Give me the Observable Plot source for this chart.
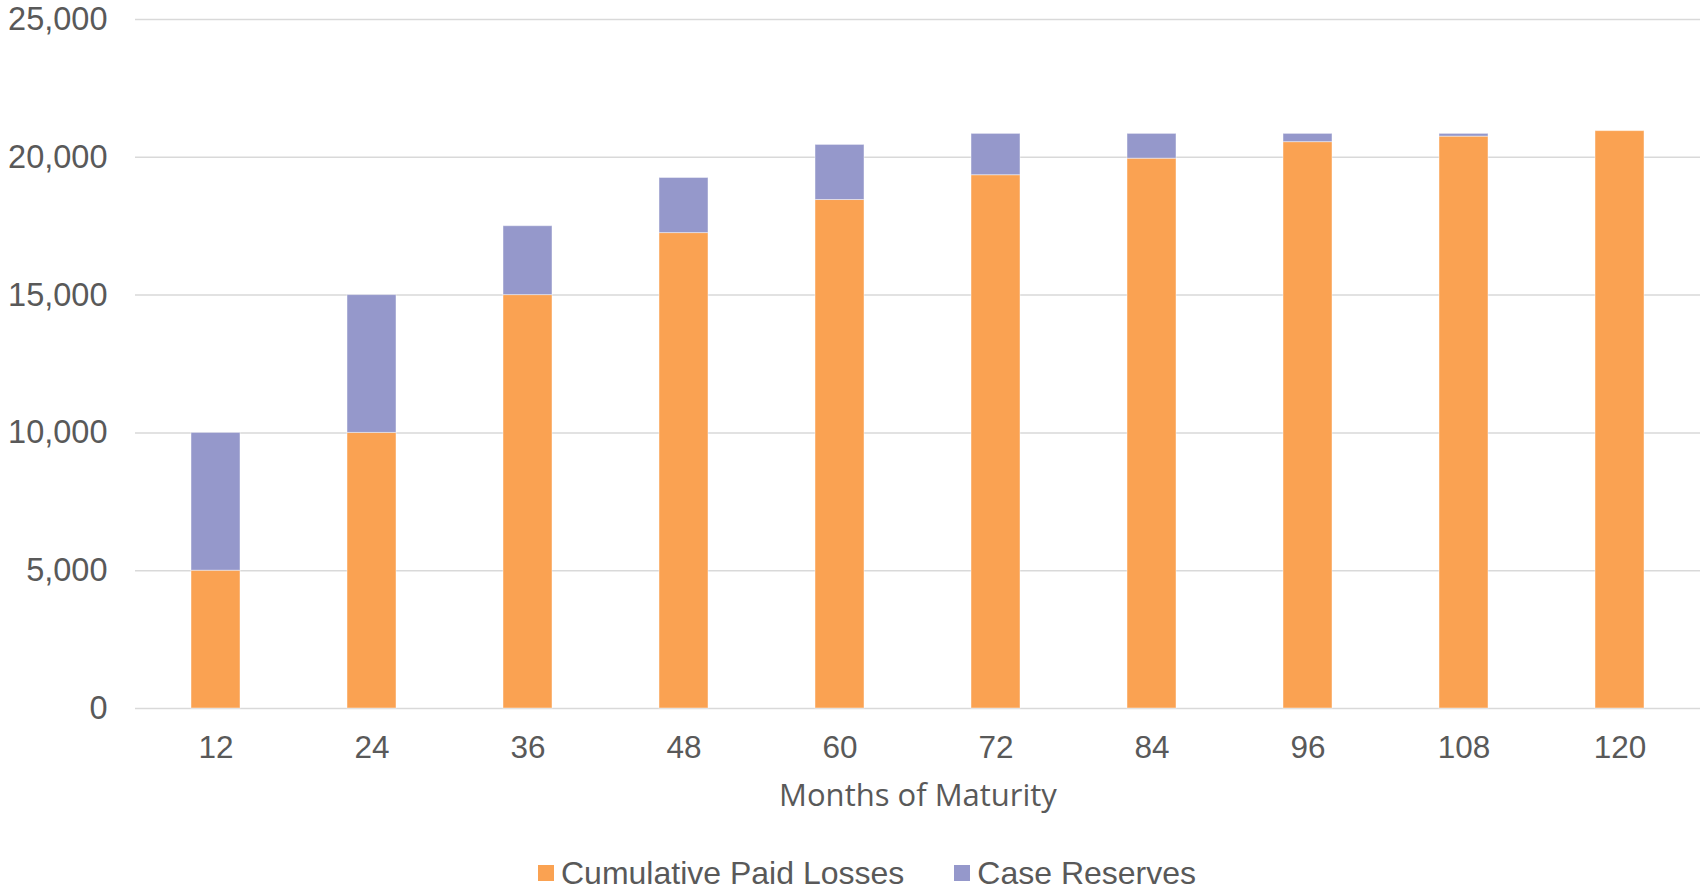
<!DOCTYPE html>
<html>
<head>
<meta charset="utf-8">
<script src="https://cdn.jsdelivr.net/npm/d3@7"></script>
<script src="https://cdn.jsdelivr.net/npm/@observablehq/plot@0.6"></script>
<style>
  html, body { margin: 0; padding: 0; background: #fff; }
  #chart svg { display: block; }
  .legend {
    display: flex; align-items: center; box-sizing: border-box;
    height: 69px; padding-top: 37px; padding-left: 538px;
    font-family: "Liberation Sans", Arial, sans-serif; font-size: 32px; color: #595959;
  }
  .legend .item { display: flex; align-items: center; margin-right: 50px; }
  .legend .swatch { width: 16px; height: 16px; margin-right: 7px; }
</style>
</head>
<body>
<div id="chart"></div>
<script>
// Development months (categories)
const months = [12, 24, 36, 48, 60, 72, 84, 96, 108, 120];
// Series values
const cumulativePaidLosses = [5000, 10000, 15000, 17250, 18450, 19350, 19950, 20550, 20750, 20950];
const caseReserves = [5000, 5000, 2500, 2000, 2000, 1500, 900, 300, 100, 0];
// Series names and y tick values
const seriesNames = ["Cumulative Paid Losses", "Case Reserves"];
const yTicks = [0, 5000, 10000, 15000, 20000, 25000];
const xLabel = "Months of Maturity";

const colors = ["#FAA252", "#9598CB"];
const textColor = "#595959";

// Long-format rows for stacking: paid losses at the bottom, reserves on top
const rows = [];
months.forEach((m, i) => {
  rows.push({month: m, series: seriesNames[0], value: cumulativePaidLosses[i]});
  rows.push({month: m, series: seriesNames[1], value: caseReserves[i]});
});
const nonZero = rows.filter(d => d.value > 0);

const chart = Plot.plot({
  width: 1706,
  height: 820,
  marginTop: 19,
  marginBottom: 112,
  marginLeft: 135,
  marginRight: 6,
  style: {fontFamily: '"Liberation Sans", Arial, sans-serif', color: textColor, background: "#fff"},
  x: {type: "band", domain: months, paddingInner: 0.685, paddingOuter: 0.3425, label: null},
  y: {domain: [0, 25000], label: null},
  color: {domain: seriesNames, range: colors},
  marks: [
    Plot.gridY(yTicks, {stroke: "#D9D9D9", strokeOpacity: 1, strokeWidth: 1.5}),
    Plot.barY(nonZero, {
      x: "month", y: "value", fill: "series",
      stroke: "#fff", strokeOpacity: 0.45, strokeWidth: 1
    }),
    Plot.axisY(yTicks, {
      tickSize: 0, tickPadding: 28, fontSize: 32.5, fill: textColor,
      tickFormat: d3.format(","), label: null
    }),
    Plot.axisX({tickSize: 0, tickPadding: 27, fontSize: 31.5, fill: textColor, label: null}),
    Plot.text([xLabel], {
      frameAnchor: "bottom", dy: 88, lineAnchor: "middle",
      fontFamily: '"Open Sans", sans-serif', fontSize: 31, fill: textColor
    })
  ]
});
document.getElementById("chart").appendChild(chart);

// Legend below the chart
const legend = d3.select("body").append("div").attr("class", "legend");
seriesNames.forEach((name, i) => {
  const item = legend.append("div").attr("class", "item");
  item.append("div").attr("class", "swatch").style("background", colors[i]);
  item.append("span").text(name);
});
</script>
</body>
</html>
